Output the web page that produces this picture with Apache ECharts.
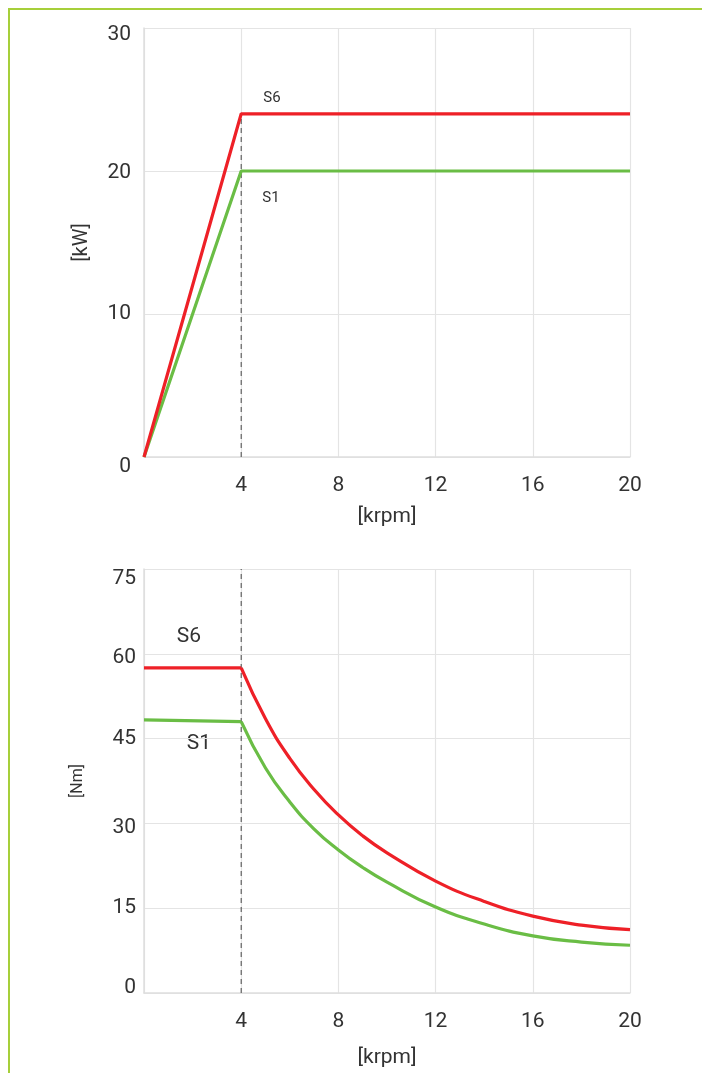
<!DOCTYPE html>
<html>
<head>
<meta charset="utf-8">
<script src="https://cdn.jsdelivr.net/npm/echarts@6/dist/echarts.min.js"></script>
<style>
html,body{margin:0;padding:0;background:#fff;}
#c{width:702px;height:1073px;}
</style>
</head>
<body>
<div id="c"></div>
<script>
// ---- data ----
var xTicks = [4, 8, 12, 16, 20];
var powerYTicks = [0, 10, 20, 30];
var torqueYTicks = [0, 15, 30, 45, 60, 75];
// power [kW] vs speed [krpm]
var s6Power = [[0, 0], [4, 24], [20, 24]];
var s1Power = [[0, 0], [4, 20], [20, 20]];
// torque [Nm] vs speed [krpm]
var s6Torque = [[0, 57.5], [4, 57.5], [5, 48.5], [6, 41.5], [7, 36.0], [8, 31.5], [9, 27.8], [10, 24.8], [12, 19.8], [14, 16.2], [16, 13.6], [18, 12.0], [20, 11.2]];
var s1Torque = [[0, 48.3], [4, 48.0], [5, 39.8], [6, 33.8], [7, 29.0], [8, 25.3], [9, 22.2], [10, 19.6], [12, 15.2], [14, 12.2], [16, 10.1], [18, 9.0], [20, 8.45]];
var cornerSpeed = 4;

var RED = '#ee2027', GREEN = '#6abd45';
var FONT = 'Roboto';

function flat(d){ return d.filter(function(p){ return p[0] <= cornerSpeed; }); }
function curve(d){ return d.filter(function(p){ return p[0] >= cornerSpeed; }); }

var chart = echarts.init(document.getElementById('c'), null, {renderer: 'canvas'});

function xAxisCfg(idx, gap){
  return {
    type: 'value', gridIndex: idx, min: 0, max: 20, interval: 4,
    name: '[krpm]', nameLocation: 'middle', nameGap: gap,
    nameTextStyle: {fontFamily: FONT, fontSize: 21, color: '#333'},
    axisLine: {show: true, lineStyle: {color: '#dedede', width: 1.5}},
    axisTick: {show: false},
    axisLabel: {fontFamily: FONT, fontSize: 21, color: '#333', margin: 18,
      formatter: function(v){ return xTicks.indexOf(v) >= 0 ? String(v) : ''; }},
    splitLine: {show: true, lineStyle: {color: '#e4e4e4', width: 1.2}}
  };
}

function yAxisCfg(idx, max, interval, name, nameSize, gap, margin, shifts){
  var rich = {};
  [2, 4, 5, 7, 9, 10].forEach(function(s){
    rich['dn' + s] = {fontFamily: FONT, fontSize: 21, color: '#333', padding: [2 * s, 0, 0, 0]};
    rich['up' + s] = {fontFamily: FONT, fontSize: 21, color: '#333', padding: [0, 0, 2 * s, 0]};
  });
  return {
    type: 'value', gridIndex: idx, min: 0, max: max, interval: interval,
    name: name, nameLocation: 'middle', nameGap: gap, nameRotate: 90,
    nameTextStyle: {fontFamily: FONT, fontSize: nameSize, color: '#333'},
    axisLine: {show: true, lineStyle: {color: '#dedede', width: 1.5}},
    axisTick: {show: false},
    axisLabel: {fontFamily: FONT, fontSize: 21, color: '#333', margin: margin,
      formatter: function(v){
        if (shifts[v] > 0) return '{dn' + shifts[v] + '|' + v + '}';
        if (shifts[v] < 0) return '{up' + (-shifts[v]) + '|' + v + '}';
        return String(v);
      },
      rich: rich
    },
    splitLine: {show: true, lineStyle: {color: '#e4e4e4', width: 1.2}}
  };
}

function lineSeries(data, color, xi, yi, smooth){
  return {
    type: 'line', xAxisIndex: xi, yAxisIndex: yi, data: data,
    showSymbol: false, smooth: smooth ? 0.5 : false,
    lineStyle: {color: color, width: 3.2}, itemStyle: {color: color},
    silent: true, animation: false
  };
}

function dashSeries(pts, xi, yi){
  return {
    type: 'line', xAxisIndex: xi, yAxisIndex: yi, data: pts,
    showSymbol: false, z: 1,
    lineStyle: {color: '#555', width: 1.1, type: [5, 4]},
    silent: true, animation: false
  };
}

var option = {
  animation: false,
  backgroundColor: '#fff',
  grid: [
    {left: 144, width: 486, top: 28, height: 429},
    {left: 144, width: 486, top: 569, height: 424}
  ],
  xAxis: [xAxisCfg(0, 49), xAxisCfg(1, 54)],
  yAxis: [
    yAxisCfg(0, 30, 10, '[kW]', 20, 52, 13, {30: 7, 20: 2, 0: 10}),
    yAxisCfg(1, 75, 15, '[Nm]', 16, 58, 8, {75: 10, 60: 4, 30: 4, 0: -5})
  ],
  series: [
    dashSeries([[cornerSpeed, 0], [cornerSpeed, s6Power[1][1]]], 0, 0),
    lineSeries(s1Power, GREEN, 0, 0, false),
    lineSeries(s6Power, RED, 0, 0, false),
    dashSeries([[cornerSpeed, 0], [cornerSpeed, 75]], 1, 1),
    lineSeries(flat(s1Torque), GREEN, 1, 1, false),
    lineSeries(curve(s1Torque), GREEN, 1, 1, true),
    lineSeries(flat(s6Torque), RED, 1, 1, false),
    lineSeries(curve(s6Torque), RED, 1, 1, true)
  ],
  graphic: [
    {type: 'polyline', shape: {points: [[9, 1073], [9, 9], [702, 9]]},
     style: {stroke: '#a6cf3a', lineWidth: 2, fill: null}, silent: true},
    {type: 'text', x: 272, y: 98, style: {text: 'S6', fontFamily: FONT, fontSize: 15, fill: '#333', align: 'center', verticalAlign: 'middle'}},
    {type: 'text', x: 271, y: 198, style: {text: 'S1', fontFamily: FONT, fontSize: 15, fill: '#333', align: 'center', verticalAlign: 'middle'}},
    {type: 'text', x: 189, y: 637, style: {text: 'S6', fontFamily: FONT, fontSize: 21, fill: '#333', align: 'center', verticalAlign: 'middle'}},
    {type: 'text', x: 199, y: 744, style: {text: 'S1', fontFamily: FONT, fontSize: 21, fill: '#333', align: 'center', verticalAlign: 'middle'}}
  ]
};
chart.setOption(option);
</script>
</body>
</html>
